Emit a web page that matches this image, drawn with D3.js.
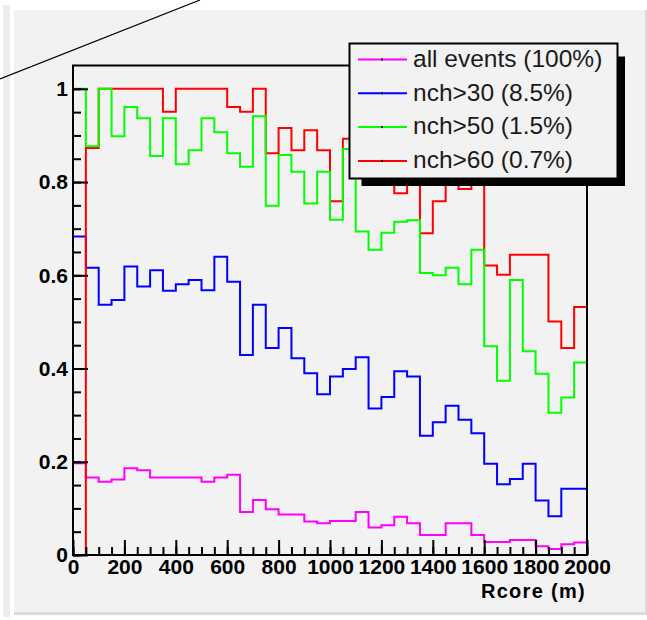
<!DOCTYPE html>
<html>
<head>
<meta charset="utf-8">
<script src="https://cdn.jsdelivr.net/npm/d3@7"></script>
<style>
body { margin: 0; background: #ffffff; }
svg { display: block; }
</style>
</head>
<body>
<div id="chart"></div>
<script>
// Rcore bins, 50 m wide, 0..2000 m
var binEdges = d3.range(0, 2001, 50);

var allEvents = [0.197, 0.166, 0.157, 0.162, 0.186, 0.182, 0.166, 0.166, 0.166, 0.166,
                 0.157, 0.166, 0.172, 0.092, 0.118, 0.098, 0.087, 0.087, 0.072, 0.068,
                 0.073, 0.073, 0.092, 0.059, 0.064, 0.082, 0.068, 0.043, 0.043, 0.068,
                 0.068, 0.043, 0.028, 0.028, 0.032, 0.032, 0.019, 0.013, 0.023, 0.027];
var nch30 = [0.683, 0.616, 0.537, 0.547, 0.619, 0.576, 0.611, 0.567, 0.581, 0.590,
             0.568, 0.640, 0.586, 0.429, 0.537, 0.444, 0.487, 0.422, 0.390, 0.345,
             0.383, 0.399, 0.424, 0.314, 0.339, 0.394, 0.383, 0.256, 0.285, 0.320,
             0.290, 0.261, 0.196, 0.152, 0.163, 0.196, 0.117, 0.083, 0.142, 0.142];
var nch50 = [1.000, 0.877, 1.000, 0.898, 0.961, 0.937, 0.856, 0.937, 0.838, 0.868,
             0.937, 0.907, 0.862, 0.833, 0.941, 0.749, 0.858, 0.822, 0.754, 0.822,
             0.719, 0.871, 0.694, 0.655, 0.691, 0.715, 0.718, 0.605, 0.600, 0.616,
             0.581, 0.655, 0.448, 0.374, 0.590, 0.437, 0.389, 0.305, 0.338, 0.413];
var nch60 = [0.000, 0.873, 1.000, 1.000, 1.000, 1.000, 1.000, 0.951, 1.000, 1.000,
             1.000, 1.000, 0.961, 0.951, 1.000, 0.862, 0.916, 0.868, 0.911, 0.868,
             0.759, 0.893, 0.870, 0.840, 0.860, 0.776, 0.820, 0.690, 0.759, 0.800,
             0.785, 0.830, 0.621, 0.601, 0.644, 0.644, 0.644, 0.501, 0.444, 0.532];

var seriesNames = ['all events (100%)', 'nch>30 (8.5%)', 'nch>50 (1.5%)', 'nch>60 (0.7%)'];
var seriesColors = ['#ff00ff', '#0000ff', '#00ff00', '#ff0000'];
var seriesValues = [allEvents, nch30, nch50, nch60];
// order the histograms were painted in (green ends up on top of red)
var drawOrder = [0, 1, 3, 2];

var xTicks = [0, 200, 400, 600, 800, 1000, 1200, 1400, 1600, 1800, 2000];
var xTickLabels = ['0', '200', '400', '600', '800', '1000', '1200', '1400', '1600', '1800', '2000'];
var yTicks = [0, 0.2, 0.4, 0.6, 0.8, 1];
var yTickLabels = ['0', '0.2', '0.4', '0.6', '0.8', '1'];
var xTitle = 'Rcore (m)';

var width = 647, height = 620;
var svg = d3.select('#chart').append('svg')
            .attr('width', width)
            .attr('height', height);

// canvas decoration
svg.append('rect').attr('x', 3).attr('y', 5).attr('width', 7).attr('height', 612).style('fill', '#ececec');
svg.append('rect').attr('x', 14).attr('y', 10).attr('width', 633).attr('height', 605).style('fill', '#dadada');
svg.append('rect').attr('x', 14).attr('y', 10).attr('width', 631).attr('height', 602).style('fill', '#f2f2f2');
svg.append('line')
   .attr('x1', 0).attr('y1', 79).attr('x2', 200).attr('y2', 0)
   .style('stroke', '#000').style('stroke-width', 1.2);

var x = d3.scaleLinear().domain([0, 2000]).range([73, 587]);
var y = d3.scaleLinear().domain([0, 1.05]).range([555, 65.5]);

// histograms as step lines
var line = d3.line()
             .x(function(d) { return x(d[0]); })
             .y(function(d) { return y(d[1]); })
             .curve(d3.curveStepAfter);

var plot = svg.append('g');
drawOrder.forEach(function(s) {
	var vals = seriesValues[s];
	var pts = vals.map(function(v, i) { return [binEdges[i], v]; });
	pts.push([binEdges[vals.length], vals[vals.length - 1]]);
	plot.append('path')
	    .attr('d', line(pts))
	    .style('fill', 'none')
	    .style('stroke', seriesColors[s])
	    .style('stroke-width', 2);
});

// axes
var tickFont = 'bold 21px "Liberation Sans", Arial, sans-serif';

var yMinor = svg.append('g').attr('transform', 'translate(73,0)')
               .call(d3.axisLeft(y).tickValues(d3.range(0, 1.0001, 0.05)).tickSize(-8).tickFormat(''));
var yAxis = svg.append('g').attr('transform', 'translate(73,0)')
               .call(d3.axisLeft(y).tickValues(yTicks).tickSize(-15).tickPadding(5)
                        .tickFormat(function(d, i) { return yTickLabels[i]; }));
var xMinor = svg.append('g').attr('transform', 'translate(0,555)')
               .call(d3.axisBottom(x).tickValues(d3.range(0, 2001, 50)).tickSize(-8).tickFormat(''));
var xAxis = svg.append('g').attr('transform', 'translate(0,555)')
               .call(d3.axisBottom(x).tickValues(xTicks).tickSize(-15).tickPadding(4)
                        .tickFormat(function(d, i) { return xTickLabels[i]; }));

[yMinor, yAxis, xMinor, xAxis].forEach(function(g) {
	g.select('.domain').remove();
	g.selectAll('.tick line').style('stroke', '#000').style('stroke-width', 2);
	g.selectAll('text').style('font', tickFont).style('fill', '#000');
});

// frame
svg.append('rect')
   .attr('x', 73).attr('y', 65.5).attr('width', 514).attr('height', 489.5)
   .style('fill', 'none').style('stroke', '#000').style('stroke-width', 2);

svg.append('text')
   .attr('x', 586).attr('y', 598)
   .attr('text-anchor', 'end')
   .style('font', 'bold 20px "Liberation Sans", Arial, sans-serif')
   .style('letter-spacing', '1.3px')
   .text(xTitle);

// legend with drop shadow
var legend = svg.append('g');
legend.append('rect')
      .attr('x', 361.5).attr('y', 56.5).attr('width', 263.5).attr('height', 129.5)
      .style('fill', '#000');
legend.append('rect')
      .attr('x', 349.5).attr('y', 43.5).attr('width', 268).attr('height', 135)
      .style('fill', '#f2f2f2').style('stroke', '#000').style('stroke-width', 2);

seriesNames.forEach(function(name, i) {
	var cy = 59.5 + i * 33.8;
	legend.append('line')
	      .attr('x1', 358).attr('x2', 407).attr('y1', cy).attr('y2', cy)
	      .style('stroke', seriesColors[i]).style('stroke-width', 2);
	legend.append('rect')
	      .attr('x', 381).attr('y', cy - 1).attr('width', 2).attr('height', 2)
	      .style('fill', '#000');
	legend.append('text')
	      .attr('x', 413).attr('y', cy).attr('dy', '0.3em')
	      .style('font', '24.5px "Liberation Sans", Arial, sans-serif')
	      .style('fill', '#1a1a1a')
	      .text(name);
});
</script>
</body>
</html>
